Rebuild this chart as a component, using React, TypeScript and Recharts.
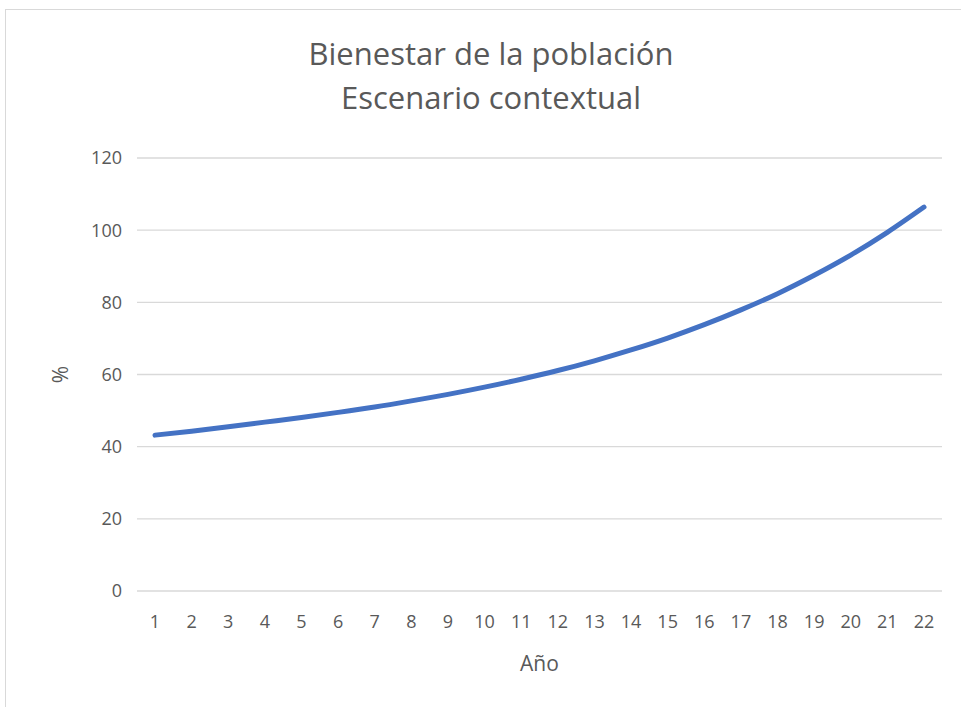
import { LineChart, Line, XAxis, YAxis, CartesianGrid, Label } from 'recharts';

const years = ['1', '2', '3', '4', '5', '6', '7', '8', '9', '10', '11', '12', '13', '14', '15', '16', '17', '18', '19', '20', '21', '22'];
const bienestar = [43.2, 44.3, 45.5, 46.8, 48.1, 49.5, 51.0, 52.7, 54.5, 56.5, 58.7, 61.1, 63.8, 66.8, 70.1, 73.8, 77.9, 82.4, 87.5, 93.1, 99.4, 106.4];
const yTicks = [0, 20, 40, 60, 80, 100, 120];
const titleLines = ['Bienestar de la población', 'Escenario contextual'];

const data = years.map((year, i) => ({ year, value: bienestar[i] }));

const FONT = '"Open Sans", Calibri, sans-serif';
const TEXT = '#595959';

export default function App() {
  return (
    <div
      style={{
        position: 'absolute',
        left: 0,
        top: 0,
        width: 961,
        height: 707,
        overflow: 'hidden',
        background: '#fff',
        fontFamily: FONT,
      }}
    >
      {/* chart frame */}
      <div
        style={{
          position: 'absolute',
          left: 5,
          top: 9,
          width: 980,
          height: 720,
          border: '1px solid #d9d9d9',
        }}
      />
      <div
        style={{
          position: 'absolute',
          left: 0,
          top: 31,
          width: 982,
          textAlign: 'center',
          color: TEXT,
          fontSize: 31,
          lineHeight: '44px',
        }}
      >
        {titleLines.map((t) => (
          <div key={t}>{t}</div>
        ))}
      </div>
      <LineChart
        width={961}
        height={707}
        data={data}
        margin={{ top: 158, right: 19, bottom: 0, left: 0 }}
        style={{ position: 'absolute', left: 0, top: 0 }}
      >
        <CartesianGrid vertical={false} stroke="#d9d9d9" strokeWidth={1.3} />
        <XAxis
          dataKey="year"
          height={116}
          axisLine={false}
          tickLine={false}
          interval={0}
          padding={{ left: 18, right: 18 }}
          tick={{ fill: TEXT, fontSize: 18, fontFamily: FONT }}
          tickMargin={18}
        >
          <Label
            value="Año"
            position="insideBottom"
            offset={36}
            style={{ fill: TEXT, fontSize: 21, fontFamily: FONT }}
          />
        </XAxis>
        <YAxis
          width={137}
          domain={[0, 120]}
          ticks={yTicks}
          axisLine={false}
          tickLine={false}
          tickMargin={9}
          tick={{ fill: TEXT, fontSize: 18, fontFamily: FONT }}
        >
          <Label
            content={({ viewBox }: any) => {
              const cy = viewBox.y + viewBox.height / 2;
              return (
                <text
                  x={60}
                  y={cy}
                  transform={`rotate(-90 60 ${cy})`}
                  textAnchor="middle"
                  dominantBaseline="central"
                  fill={TEXT}
                  fontSize={21}
                  fontFamily={FONT}
                >
                  %
                </text>
              );
            }}
          />
        </YAxis>
        <Line
          type="monotone"
          dataKey="value"
          stroke="#4472C4"
          strokeWidth={5}
          strokeLinecap="round"
          dot={false}
          isAnimationActive={false}
        />
      </LineChart>
    </div>
  );
}
